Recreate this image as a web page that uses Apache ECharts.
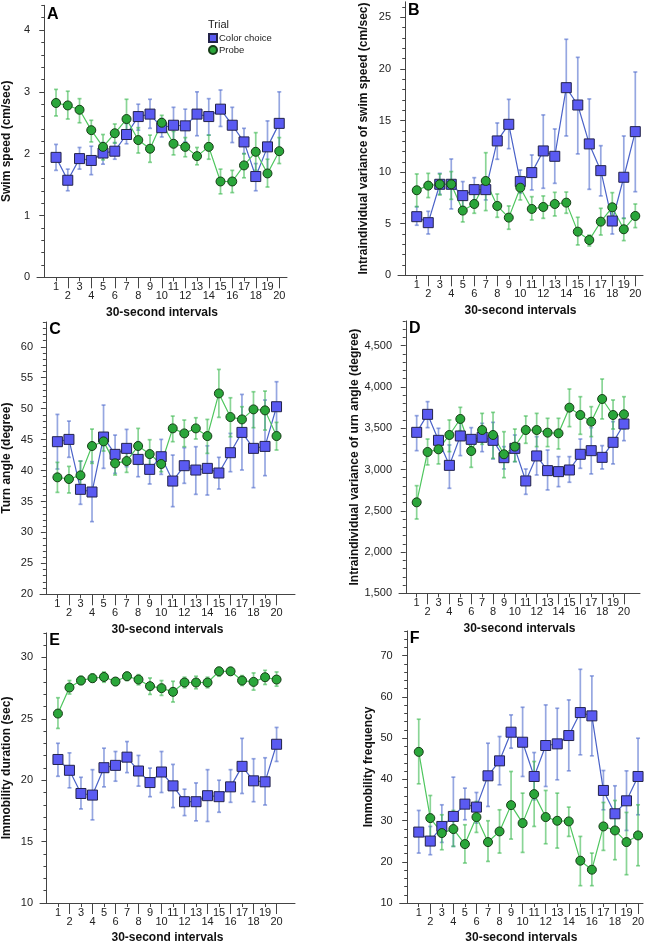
<!DOCTYPE html>
<html>
<head>
<meta charset="utf-8">
<script src="https://cdn.jsdelivr.net/npm/echarts@6.0.0/dist/echarts.min.js"></script>
<style>
  html, body { margin: 0; padding: 0; background: #fff; }
  #main { width: 657px; height: 945px; }
</style>
</head>
<body>
<div id="main"></div>
<script>
'use strict'

// 30-second intervals 1..20
const intervals = [1, 2, 3, 4, 5, 6, 7, 8, 9, 10, 11, 12, 13, 14, 15, 16, 17, 18, 19, 20];
const oddTicks = [1, 3, 5, 7, 9, 11, 13, 15, 17, 19];
const evenTicks = [2, 4, 6, 8, 10, 12, 14, 16, 18, 20];

// A - swim speed
const colorA = [1.94, 1.57, 1.92, 1.89, 2.01, 2.04, 2.31, 2.60, 2.64, 2.42, 2.46, 2.45, 2.64, 2.60, 2.72, 2.46, 2.19, 1.63, 2.11, 2.49];
const colorAHi = [2.15, 1.75, 2.10, 2.12, 2.18, 2.18, 2.49, 2.80, 2.88, 2.57, 2.75, 2.72, 3.00, 2.89, 3.03, 2.75, 2.41, 1.84, 2.53, 3.00];
const colorALo = [1.73, 1.40, 1.75, 1.66, 1.83, 1.91, 2.16, 2.38, 2.41, 2.27, 2.16, 2.19, 2.29, 2.30, 2.44, 2.18, 2.00, 1.40, 1.70, 2.06];
const probeA = [2.82, 2.78, 2.71, 2.38, 2.11, 2.33, 2.56, 2.22, 2.08, 2.50, 2.16, 2.11, 1.96, 2.11, 1.55, 1.55, 1.81, 2.03, 1.68, 2.04];
const probeAHi = [3.04, 3.01, 2.89, 2.54, 2.31, 2.48, 2.88, 2.42, 2.30, 2.62, 2.36, 2.26, 2.10, 2.30, 1.75, 1.73, 2.00, 2.34, 1.91, 2.26];
const probeALo = [2.61, 2.56, 2.50, 2.19, 1.90, 2.17, 2.26, 2.01, 1.86, 2.35, 1.98, 1.95, 1.82, 1.91, 1.35, 1.37, 1.61, 1.73, 1.46, 1.84];

// B - variance of swim speed
const colorB = [5.68, 5.10, 8.82, 8.82, 7.72, 8.30, 8.30, 13.02, 14.63, 9.08, 9.95, 12.05, 11.53, 18.18, 16.50, 12.73, 10.14, 5.26, 9.50, 13.92];
const colorBHi = [6.65, 6.20, 9.88, 11.27, 9.08, 9.46, 9.30, 14.76, 17.05, 10.20, 11.66, 15.54, 14.18, 22.87, 21.12, 17.09, 12.56, 6.78, 13.50, 19.70];
const colorBLo = [4.85, 4.00, 7.85, 6.43, 6.65, 7.30, 7.30, 11.24, 12.27, 7.95, 8.27, 8.43, 8.91, 13.50, 11.76, 8.33, 7.69, 4.00, 5.52, 8.10];
const probeB = [8.24, 8.69, 8.82, 8.82, 6.27, 6.91, 9.14, 6.72, 5.59, 8.49, 6.43, 6.62, 6.91, 7.04, 4.23, 3.42, 5.20, 6.59, 4.46, 5.75];
const probeBHi = [9.82, 9.88, 9.82, 10.05, 7.36, 7.88, 11.88, 7.88, 6.72, 9.56, 7.62, 7.69, 8.04, 8.07, 5.62, 3.90, 6.49, 8.01, 5.52, 6.91];
const probeBLo = [6.65, 7.53, 7.78, 7.36, 5.17, 6.01, 6.27, 5.62, 4.46, 7.30, 5.36, 5.52, 5.75, 6.01, 2.94, 2.84, 3.90, 5.20, 3.36, 4.62];

// C - turn angle
const colorC = [44.66, 45.03, 36.96, 36.53, 45.41, 42.61, 43.58, 41.80, 40.19, 42.23, 38.30, 40.78, 40.08, 40.35, 39.60, 42.88, 46.16, 43.58, 43.90, 50.31];
const colorCHi = [49.07, 47.99, 41.53, 41.43, 50.58, 45.73, 46.65, 44.66, 42.07, 45.03, 42.50, 43.69, 43.85, 44.00, 42.13, 46.00, 52.30, 49.88, 51.39, 54.35];
const colorCLo = [40.24, 42.13, 34.54, 31.74, 40.35, 39.54, 40.62, 39.00, 37.82, 39.38, 34.16, 37.93, 36.15, 36.04, 37.01, 39.81, 40.08, 37.23, 39.17, 46.27];
const probeC = [38.90, 38.63, 39.22, 43.96, 44.71, 41.16, 41.53, 43.96, 42.66, 41.05, 46.81, 46.00, 46.81, 45.57, 52.46, 48.64, 48.26, 49.88, 49.72, 45.57];
const probeCHi = [41.32, 40.67, 41.53, 46.70, 46.11, 43.04, 43.15, 46.81, 44.98, 42.23, 48.80, 48.16, 48.53, 48.26, 56.34, 51.76, 50.31, 52.73, 52.84, 47.78];
const probeCLo = [36.47, 36.37, 37.12, 41.16, 43.15, 39.27, 39.70, 41.00, 40.35, 39.81, 44.66, 43.85, 45.09, 42.77, 48.59, 45.46, 46.16, 46.92, 46.54, 43.31];

// D - variance of turn angle
const colorD = [3450, 3668, 3353, 3050, 3406, 3365, 3390, 3353, 3143, 3256, 2861, 3164, 2986, 2974, 2994, 3184, 3228, 3147, 3329, 3551];
const colorDHi = [3652, 3822, 3499, 3297, 3620, 3507, 3559, 3571, 3277, 3418, 3006, 3398, 3236, 3156, 3156, 3369, 3507, 3289, 3580, 3709];
const colorDLo = [3228, 3507, 3216, 2772, 3168, 3216, 3216, 3127, 3006, 3095, 2699, 2933, 2752, 2792, 2845, 3014, 2946, 3006, 3067, 3349];
const probeD = [2602, 3212, 3244, 3418, 3612, 3224, 3478, 3418, 3184, 3277, 3478, 3478, 3446, 3438, 3749, 3660, 3579, 3854, 3660, 3668];
const probeDHi = [2804, 3369, 3369, 3600, 3753, 3377, 3680, 3692, 3458, 3490, 3648, 3680, 3620, 3620, 3975, 3882, 3761, 4096, 3842, 3882];
const probeDLo = [2400, 3055, 3067, 3216, 3470, 3026, 3305, 3135, 2901, 3095, 3317, 3277, 3277, 3248, 3519, 3426, 3398, 3612, 3490, 3490];

// E - immobility duration
const colorE = [21.69, 20.81, 18.92, 18.79, 21.02, 21.21, 21.88, 20.75, 19.81, 20.67, 19.54, 18.25, 18.25, 18.74, 18.66, 19.46, 21.13, 19.95, 19.87, 22.93];
const colorEHi = [23.01, 22.23, 20.24, 20.86, 22.61, 22.34, 23.15, 22.02, 20.99, 22.34, 21.29, 19.27, 19.78, 20.86, 20.00, 20.86, 23.41, 21.75, 21.83, 24.30];
const colorELo = [20.32, 19.38, 17.66, 16.77, 19.46, 19.92, 20.62, 19.52, 18.66, 19.00, 17.77, 17.12, 16.69, 16.64, 17.39, 18.20, 18.92, 18.25, 17.98, 21.53];
const probeE = [25.43, 27.55, 28.12, 28.31, 28.41, 28.04, 28.47, 28.20, 27.66, 27.50, 27.20, 27.96, 27.96, 27.96, 28.87, 28.87, 28.12, 28.01, 28.39, 28.20];
const probeEHi = [26.72, 28.12, 28.47, 28.66, 28.82, 28.33, 28.79, 28.60, 28.33, 28.12, 28.06, 28.39, 28.47, 28.39, 29.19, 29.14, 28.52, 28.74, 28.95, 28.82];
const probeELo = [24.22, 27.02, 27.80, 27.98, 27.98, 27.72, 28.12, 27.77, 26.99, 26.91, 26.37, 27.53, 27.45, 27.53, 28.47, 28.57, 27.72, 27.34, 27.80, 27.66];

// F - immobility frequency
const colorF = [27.20, 25.02, 28.57, 31.00, 33.98, 33.26, 40.85, 44.48, 51.43, 49.00, 40.69, 48.20, 48.60, 50.62, 56.19, 55.39, 37.30, 31.64, 34.79, 40.69];
const colorFHi = [32.45, 28.57, 33.82, 40.53, 37.86, 36.81, 48.76, 50.38, 55.63, 57.48, 46.50, 58.05, 57.24, 59.26, 66.69, 65.08, 42.14, 38.43, 42.06, 49.97];
const colorFLo = [22.11, 21.71, 24.70, 23.73, 30.19, 29.38, 33.42, 38.67, 47.55, 40.69, 35.03, 38.26, 39.88, 42.06, 45.94, 45.69, 32.61, 26.96, 27.60, 31.40];
const probeF = [46.66, 30.59, 26.96, 27.93, 24.29, 30.84, 24.78, 27.36, 33.74, 29.38, 36.41, 30.84, 29.95, 29.79, 20.26, 18.08, 28.57, 27.60, 24.78, 26.39];
const probeFHi = [54.58, 36.08, 31.40, 32.45, 28.98, 34.63, 29.95, 32.61, 41.90, 36.65, 44.32, 37.30, 36.65, 33.26, 26.15, 22.11, 34.39, 34.87, 31.97, 33.82];
const probeFLo = [38.91, 25.18, 22.92, 23.73, 19.69, 27.12, 20.09, 22.11, 25.50, 22.27, 28.57, 24.37, 23.32, 26.15, 14.20, 14.20, 22.76, 20.50, 16.86, 19.04];

const font = 'Liberation Sans, Arial, sans-serif';
const blue = { fill: '#5a5af2', border: '#23234a', line: '#4a62c8', err: 'rgba(80, 108, 205, 0.6)' };
const green = { fill: '#2aa63a', border: '#173d17', line: '#4ec65e', err: 'rgba(60, 185, 80, 0.6)' };

// layout of the six panels
let panels = [
    { letter: 'A', grid: { left: 37, top: 5.3, width: 250, height: 272 }, x: [-0.62, 20.66], y: [0, 4.4], major: 1, minor: 0.2,
      yName: 'Swim speed (cm/sec)', yGap: 24, color: [colorA, colorAHi, colorALo], probe: [probeA, probeAHi, probeALo] },
    { letter: 'B', grid: { left: 398, top: 1.8, width: 245, height: 273.5 }, x: [-0.63, 20.67], y: [0, 26.5], major: 5, minor: 1,
      yName: 'Intraindividual variance of swim speed (cm/sec)', yGap: 28, color: [colorB, colorBHi, colorBLo], probe: [probeB, probeBHi, probeBLo] },
    { letter: 'C', grid: { left: 39.3, top: 322, width: 255.7, height: 272.3 }, x: [-0.51, 21.6], y: [20, 64], major: 5, minor: 1,
      yName: 'Turn angle (degree)', yGap: 27, color: [colorC, colorCHi, colorCLo], probe: [probeC, probeCHi, probeCLo] },
    { letter: 'D', grid: { left: 399, top: 320.9, width: 241, height: 272.4 }, x: [-0.62, 21.47], y: [1500, 4800], major: 500, minor: 100,
      yName: 'Intraindividual variance of urn angle (degree)', yGap: 37, color: [colorD, colorDHi, colorDLo], probe: [probeD, probeDHi, probeDLo] },
    { letter: 'E', grid: { left: 39.3, top: 632.9, width: 255.7, height: 272.8 }, x: [-0.56, 21.6], y: [10, 32], major: 5, minor: 1,
      yName: 'Immobility duration (sec)', yGap: 27, color: [colorE, colorEHi, colorELo], probe: [probeE, probeEHi, probeELo] },
    { letter: 'F', grid: { left: 399.7, top: 630.9, width: 243.3, height: 272.4 }, x: [-0.65, 20.43], y: [10, 76], major: 10, minor: 2,
      yName: 'Immobility frequency', yGap: 25, color: [colorF, colorFHi, colorFLo], probe: [probeF, probeFHi, probeFLo] }
];

function steps(min, max, step) {
    let out = [];
    for (let v = min; v <= max + 1e-9; v += step) out.push(Math.round(v * 1000) / 1000);
    return out;
}

function errorBars(stroke) {
    return function (params, api) {
        let x = api.value(0);
        let top = api.coord([x, api.value(2)]);
        let bot = api.coord([x, api.value(1)]);
        let cap = 2;
        let style = { stroke: stroke, lineWidth: 1.7, fill: null };
        return {
            type: 'group',
            children: [
                { type: 'line', shape: { x1: top[0], y1: top[1], x2: bot[0], y2: bot[1] }, style: style },
                { type: 'line', shape: { x1: top[0] - cap, y1: top[1], x2: top[0] + cap, y2: top[1] }, style: style },
                { type: 'line', shape: { x1: bot[0] - cap, y1: bot[1], x2: bot[0] + cap, y2: bot[1] }, style: style }
            ]
        };
    };
}

let grids = [], xAxes = [], yAxes = [], series = [], graphics = [];

panels.forEach(function (p, i) {
    grids.push(p.grid);

    let xBase = {
        type: 'value', gridIndex: i, position: 'bottom', min: p.x[0], max: p.x[1],
        splitLine: { show: false },
        axisLine: { show: true, lineStyle: { color: '#444', width: 1 } }
    };
    xAxes.push(Object.assign({}, xBase, {
        name: '30-second intervals', nameLocation: 'middle', nameGap: 29,
        nameTextStyle: { fontFamily: font, fontSize: 12, fontWeight: 'bold', color: '#111' },
        axisTick: { show: true, customValues: oddTicks, length: 4, lineStyle: { color: '#444' } },
        axisLabel: { customValues: oddTicks, margin: 4, fontFamily: font, fontSize: 11, color: '#222' }
    }));
    xAxes.push(Object.assign({}, xBase, {
        axisLine: { show: false },
        axisTick: { show: true, customValues: evenTicks, length: 11, lineStyle: { color: '#444' } },
        axisLabel: { customValues: evenTicks, margin: 13, fontFamily: font, fontSize: 11, color: '#222' }
    }));

    let lastMajor = Math.floor((p.y[1] - p.y[0]) / p.major + 1e-9) * p.major + p.y[0];
    let majors = steps(p.y[0], lastMajor, p.major);
    let minors = steps(p.y[0], p.y[1], p.minor).filter(function (v) {
        return majors.indexOf(v) < 0;
    });
    yAxes.push({
        type: 'value', gridIndex: i, position: 'left', min: p.y[0], max: p.y[1],
        name: p.yName, nameLocation: 'middle', nameGap: p.yGap,
        nameTextStyle: { fontFamily: font, fontSize: 12, fontWeight: 'bold', color: '#111' },
        splitLine: { show: false },
        axisLine: { show: true, lineStyle: { color: '#444', width: 1 } },
        axisTick: { show: true, customValues: majors, length: 5, lineStyle: { color: '#444' } },
        axisLabel: {
            customValues: majors, margin: 7, fontFamily: font, fontSize: 11, color: '#222',
            formatter: function (v) { return Number(v).toLocaleString('en-US'); }
        }
    });
    yAxes.push({
        type: 'value', gridIndex: i, position: 'left', min: p.y[0], max: p.y[1],
        splitLine: { show: false },
        axisLine: { show: false },
        axisTick: { show: true, customValues: minors, length: 3, lineStyle: { color: '#444' } },
        axisLabel: { show: false }
    });

    let xi = i * 2, yi = i * 2;
    [[p.color, blue, 'Color choice'], [p.probe, green, 'Probe']].forEach(function (s) {
        let vals = s[0], c = s[1];
        series.push({
            type: 'custom', name: s[2] + ' SE', xAxisIndex: xi, yAxisIndex: yi,
            renderItem: errorBars(c.err),
            encode: { x: 0, y: [1, 2] },
            data: intervals.map(function (x, k) { return [x, vals[2][k], vals[1][k]]; }),
            z: 2
        });
    });
    [[p.color, blue, 'Color choice', 'rect', 10], [p.probe, green, 'Probe', 'circle', 9]].forEach(function (s) {
        let vals = s[0], c = s[1];
        series.push({
            type: 'line', name: s[2], xAxisIndex: xi, yAxisIndex: yi,
            symbol: s[3], symbolSize: s[4],
            itemStyle: { color: c.fill, borderColor: c.border, borderWidth: 1 },
            lineStyle: { color: c.line, width: 1.2 },
            emphasis: { disabled: true },
            data: intervals.map(function (x, k) { return [x, vals[0][k]]; }),
            z: 3
        });
    });

    graphics.push({
        type: 'text', left: p.grid.left + 10, top: p.grid.top + (i < 2 ? 1 : 0),
        style: { text: p.letter, font: 'bold 16px ' + font, fill: '#000' }
    });
});

// legend title for panel A
graphics.push({
    type: 'text', left: 208, top: 19,
    style: { text: 'Trial', font: '11px ' + font, fill: '#222' }
});

let myChart = echarts.init(document.getElementById('main'));
myChart.setOption({
    animation: false,
    backgroundColor: '#fff',
    grid: grids,
    xAxis: xAxes,
    yAxis: yAxes,
    legend: {
        orient: 'vertical', left: 208, top: 33, padding: 0,
        itemWidth: 8, itemHeight: 8, itemGap: 2,
        selectedMode: false,
        textStyle: { fontFamily: font, fontSize: 9.5, color: '#222', padding: [0, 0, 0, -3] },
        data: [{ name: 'Color choice', icon: 'rect' }, { name: 'Probe', icon: 'circle' }]
    },
    graphic: graphics,
    series: series
});
</script>
</body>
</html>
